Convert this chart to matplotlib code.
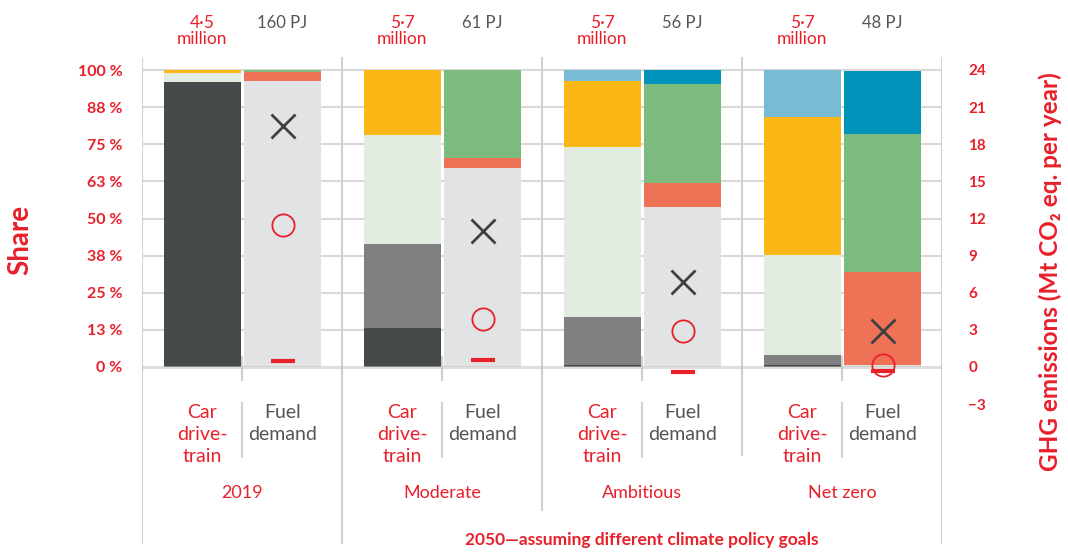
import matplotlib
matplotlib.use("Agg")
import matplotlib.pyplot as plt

plt.rcParams['font.family'] = ['Lato', 'DejaVu Sans']

RED = '#E8202A'
DARK_TXT = '#555555'

# scenarios and header labels
groups = ['2019', 'Moderate', 'Ambitious', 'Net zero']
car_units = ['4·5\nmillion', '5·7\nmillion', '5·7\nmillion', '5·7\nmillion']
fuel_pj = ['160 PJ', '61 PJ', '56 PJ', '48 PJ']

# car drive-train shares (%), bottom to top
car_dark = [96.0, 13.1, 0.7, 0.7]
car_gray = [0.0, 28.3, 16.2, 3.3]
car_lightgreen = [3.0, 36.7, 57.2, 33.7]
car_yellow = [1.0, 21.9, 22.2, 46.5]
car_lightblue = [0.0, 0.0, 3.7, 15.8]

# fuel demand shares (%), bottom to top
fuel_fossil = [96.3, 67.0, 53.9, 0.7]
fuel_red = [3.1, 3.5, 8.1, 31.4]
fuel_green = [0.6, 29.5, 33.3, 46.4]
fuel_teal = [0.0, 0.0, 4.7, 21.2]

# GHG emissions (Mt CO2 eq. per year)
ghg_x = [19.5, 11.0, 6.9, 2.9]
ghg_circle = [11.5, 3.9, 2.9, 0.2]
ghg_dash = [0.5, 0.55, -0.4, -0.35]

car_colors = ['#45494A', '#808080', '#E2ECE0', '#FBB715', '#77BBD5']
fuel_colors = ['#E2E3E5', '#F07256', '#7CBA7E', '#0093BA']

# pixel helpers for layout (fig is 1068x552 px)
def py(px):
    return (367 - px) / 2.97

fig = plt.figure(figsize=(10.68, 5.52), dpi=100)
ax = fig.add_axes([142 / 1068, 1 - 545 / 552, 800 / 1068, 488 / 552])
ax.set_xlim(0, 8)
ax.set_ylim(py(545), py(57))
for s in ax.spines.values():
    s.set_visible(False)

car_x = [g * 2 + 0.60 for g in range(len(groups))]
fuel_x = [g * 2 + 1.405 for g in range(len(groups))]
w = 0.77

bottom = [0.0] * 4
for vals, c in zip([car_dark, car_gray, car_lightgreen, car_yellow, car_lightblue], car_colors):
    ax.bar(car_x, vals, w, bottom=bottom, color=c, zorder=2)
    bottom = [b + v for b, v in zip(bottom, vals)]

bottom = [0.0] * 4
for vals, c in zip([fuel_fossil, fuel_red, fuel_green, fuel_teal], fuel_colors):
    ax.bar(fuel_x, vals, w, bottom=bottom, color=c, zorder=2)
    bottom = [b + v for b, v in zip(bottom, vals)]

# grid
yt = [0, 12.5, 25, 37.5, 50, 62.5, 75, 87.5, 100]
ax.hlines(yt[1:], 0, 8, color='#D9D9D9', lw=1.5, zorder=1)
ax.axhline(0, color=(0.75, 0.75, 0.75, 0.5), lw=2.2, zorder=3)
for x, low in [(0, 543), (2, 543), (4, 510), (6, 455), (8, 543)]:
    ax.plot([x, x], [py(57), py(low)], color='#D0D0D0', lw=1.5, zorder=1)
for g in range(4):
    x = g * 2 + 1
    ax.plot([x, x], [py(357), py(380)], color='#D0D0D0', lw=1.5, zorder=1)
    ax.plot([x, x], [py(403), py(457)], color='#D0D0D0', lw=1.5, zorder=1)

ax.set_yticks(yt)
ax.set_yticklabels(['0 %', '13 %', '25 %', '38 %', '50 %', '63 %', '75 %', '88 %', '100 %'])
ax.tick_params(axis='y', length=0, pad=14, labelcolor=RED, labelsize=11.5)
for t in ax.get_yticklabels():
    t.set_fontweight('bold')
ax.set_xticks([])

# right axis: emissions
ax2 = ax.twinx()
ax2.set_ylim(py(545) * 0.24, py(57) * 0.24)
for s in ax2.spines.values():
    s.set_visible(False)
ax2.set_yticks(range(-3, 25, 3))
ax2.tick_params(axis='y', length=0, pad=19, labelcolor=RED, labelsize=11)
for t in ax2.get_yticklabels():
    t.set_fontweight('bold')

ax2.plot(fuel_x, ghg_x, linestyle='none', marker='x', markersize=17, mew=2.0, color='#404040', zorder=5)
ax2.plot(fuel_x, ghg_circle, linestyle='none', marker='o', markersize=16, mew=1.3, mfc='none', mec=RED, zorder=5)
ax2.plot(fuel_x, ghg_dash, linestyle='none', marker='_', markersize=17, mew=3, color=RED, zorder=5)

# header and category labels
for g in range(4):
    ax.text(car_x[g], py(31), car_units[g], ha='center', va='center', color=RED, fontsize=12.5, linespacing=0.95)
    ax.text(fuel_x[g], py(23), fuel_pj[g], ha='center', va='center', color=DARK_TXT, fontsize=12)
    ax.text(car_x[g], py(404), 'Car\ndrive-\ntrain', ha='center', va='top', color=RED, fontsize=14, linespacing=1.36)
    ax.text(fuel_x[g], py(404), 'Fuel\ndemand', ha='center', va='top', color=DARK_TXT, fontsize=14, linespacing=1.36)
    ax.text(g * 2 + 1, py(493), groups[g], ha='center', va='center', color=RED, fontsize=13)

ax.text(5, py(540), '2050—assuming different climate policy goals', ha='center', va='center',
        color=RED, fontsize=12.5, fontweight='bold')

fig.text(20 / 1068, 1 - 240 / 552, 'Share', rotation=90, ha='center', va='center',
         color=RED, fontsize=20, fontweight='bold')
fig.text(1050 / 1068, 1 - 272 / 552, 'GHG emissions (Mt CO₂ eq. per year)', rotation=90,
         ha='center', va='center', color=RED, fontsize=17.5, fontweight='bold')

fig.savefig('out.png', dpi=100)
